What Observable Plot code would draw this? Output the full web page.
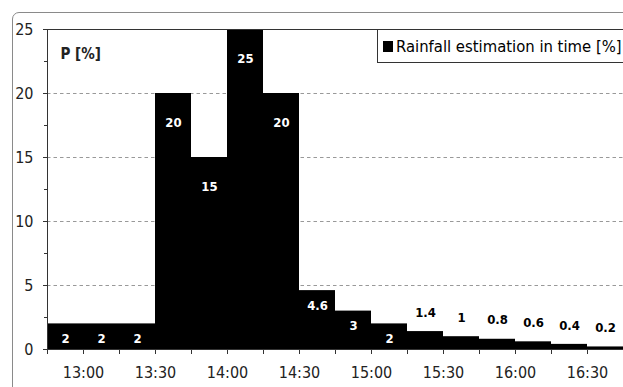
<!DOCTYPE html>
<html>
<head>
<meta charset="utf-8">
<script src="https://cdn.jsdelivr.net/npm/d3@7"></script>
<script src="https://cdn.jsdelivr.net/npm/@observablehq/plot@0.6"></script>
<style>
  body { margin: 0; background: white; }
  #wrap { position: relative; width: 623px; height: 387px; overflow: hidden; background: white; }
  #wrap svg { position: absolute; left: 0; top: 0; background: transparent; }
  .frame { position: absolute; left: 12px; top: 12px; width: 700px; height: 500px;
           border: 1.5px solid #8a8a8a; border-radius: 7px; pointer-events: none; }
  .legend { position: absolute; left: 377px; top: 29px; width: 260px; height: 34px;
            border: 1px solid #333; background: white; box-sizing: border-box;
            font-family: "DejaVu Sans Condensed", "DejaVu Sans", sans-serif; font-size: 16.5px;
            display: flex; align-items: center; padding-left: 5px; color: #000; white-space: nowrap; }
  .legend .sw { width: 10px; height: 11px; background: #000; margin-right: 3px; flex: none; }
</style>
</head>
<body>
<div id="wrap"></div>
<script>
// Interval start times (15-minute steps) and the share of rainfall in each
const starts = ["12:45","13:00","13:15","13:30","13:45","14:00","14:15","14:30",
                "14:45","15:00","15:15","15:30","15:45","16:00","16:15","16:30"];
const rainfall = [2, 2, 2, 20, 15, 25, 20, 4.6, 3, 2, 1.4, 1, 0.8, 0.6, 0.4, 0.2];
const timeLabels = ["13:00","13:30","14:00","14:30","15:00","15:30","16:00","16:30"];
const yTicks = [0, 5, 10, 15, 20, 25];
const gridValues = [5, 10, 15, 20];
const minorYTicks = [0, 2.5, 5, 7.5, 10, 12.5, 15, 17.5, 20, 22.5, 25];
const seriesName = "Rainfall estimation in time [%]";
const stepMinutes = 15;

const toMin = s => { const [h, m] = s.split(":").map(Number); return h * 60 + m; };
const fmt = m => `${Math.floor(m / 60)}:${String(m % 60).padStart(2, "0")}`;

const data = starts.map((s, i) => ({
  x1: toMin(s), x2: toMin(s) + stepMinutes, mid: toMin(s) + stepMinutes / 2, v: rainfall[i]
}));
const xMin = data[0].x1, xMax = data[data.length - 1].x2;
const binEdges = d3.range(xMin, xMax + 1, stepMinutes);

const font = "'DejaVu Sans Condensed', 'DejaVu Sans', sans-serif";
const labelFont = { fontFamily: font, fontWeight: "bold", fontSize: 13, textAnchor: "middle" };

const chart = Plot.plot({
  width: 623, height: 387,
  marginLeft: 47, marginRight: 0, marginTop: 29, marginBottom: 38,
  style: { fontFamily: font, fontSize: "16px", color: "#222", background: "transparent" },
  x: { domain: [xMin, xMax], label: null },
  y: { domain: [0, 25], label: null },
  marks: [
    Plot.gridY(gridValues, { stroke: "#999", strokeOpacity: 1, strokeDasharray: "3.5,3" }),
    Plot.rectY(data, { x1: "x1", x2: "x2", y: "v", fill: "#000", inset: 0 }),
    // value labels: inside the tall bars, above the short ones
    Plot.text(data.filter(d => d.v >= 5), { x: "mid", y: "v", text: d => String(d.v), fill: "white", dy: 29, ...labelFont }),
    Plot.text(data.filter(d => d.v >= 2 && d.v < 5), { x: "mid", y: "v", text: d => String(d.v), fill: "white", dy: 15, ...labelFont }),
    Plot.text(data.filter(d => d.v < 2), { x: "mid", y: "v", text: d => String(d.v), fill: "black", dy: -19, ...labelFont }),
    Plot.ruleY([25], { stroke: "#333" }),
    Plot.ruleY([0], { stroke: "#333" }),
    Plot.ruleX([xMin], { stroke: "#333" }),
    Plot.axisY(minorYTicks, { tickSize: 3, tickFormat: () => "", stroke: "#333", label: null }),
    Plot.axisY(yTicks, { tickSize: 4, tickPadding: 10, stroke: "#333", fontSize: 16, label: null }),
    Plot.axisX(binEdges, { tickSize: 5, tickFormat: () => "", stroke: "#333", label: null }),
    Plot.axisX(timeLabels.map(toMin), { tickSize: 0, tickPadding: 17, tickFormat: fmt, fontSize: 16, label: null }),
    Plot.text(["P [%]"], { frameAnchor: "top-left", dx: 13, dy: 19, fontWeight: "bold", fontSize: 15, fontFamily: font, textAnchor: "start" })
  ]
});

const wrap = document.getElementById("wrap");
wrap.appendChild(chart);

const legend = document.createElement("div");
legend.className = "legend";
legend.innerHTML = `<div class="sw"></div><span></span>`;
legend.querySelector("span").textContent = seriesName;
wrap.appendChild(legend);

const frame = document.createElement("div");
frame.className = "frame";
wrap.appendChild(frame);
</script>
</body>
</html>
